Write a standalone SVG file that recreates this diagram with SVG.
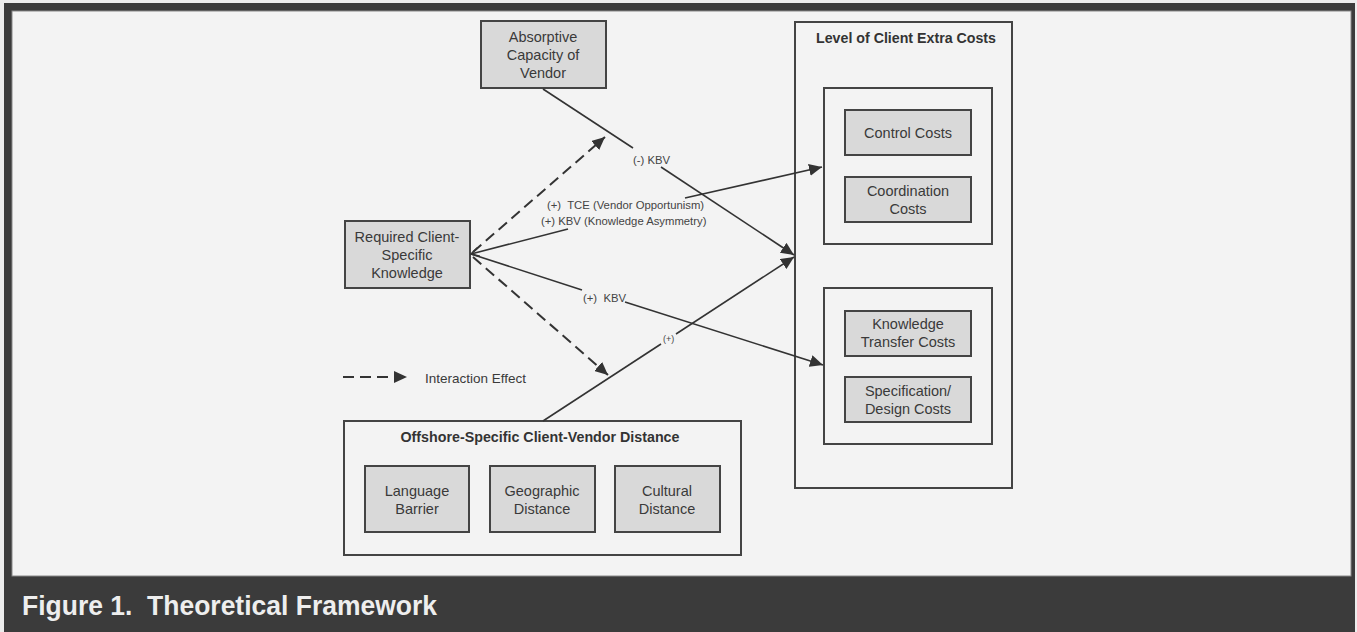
<svg xmlns="http://www.w3.org/2000/svg" width="1357" height="632" viewBox="0 0 1357 632">
<defs>
<style>
.box{fill:#d9d9d9;stroke:#444;stroke-width:2}
.frame{fill:none;stroke:#444;stroke-width:2}
.t{font-family:"Liberation Sans",Arial,sans-serif;font-size:14.5px;fill:#3a3a3a;text-anchor:middle}
.h{font-family:"Liberation Sans",Arial,sans-serif;font-size:15px;font-weight:bold;fill:#333;text-anchor:middle}
.lbl{font-family:"Liberation Sans",Arial,sans-serif;font-size:11.3px;fill:#444}
.ln{fill:none;stroke:#333;stroke-width:1.6}
.dash{fill:none;stroke:#333;stroke-width:2;stroke-dasharray:11 6}
</style>
<marker id="ah" markerUnits="userSpaceOnUse" markerWidth="14" markerHeight="12" refX="13" refY="6" orient="auto">
<path d="M0,0 L13,6 L0,12 z" fill="#333"/>
</marker>
<marker id="open" markerUnits="userSpaceOnUse" markerWidth="12" markerHeight="12" refX="11" refY="6" orient="auto">
<path d="M3,1.5 L11,6 L3,10.5" fill="none" stroke="#333" stroke-width="1.6"/>
</marker>
</defs>

<rect x="0" y="0" width="1357" height="632" fill="#ececec"/>
<rect x="4" y="3" width="1351" height="629" fill="#3b3b3b"/>
<rect x="12" y="11" width="1339" height="565" fill="#f3f3f3" stroke="#888" stroke-width="1"/>

<g id="absorptive">
<rect class="box" x="481" y="21" width="125" height="67"/>
<text class="t" x="543" y="42">Absorptive</text>
<text class="t" x="543" y="60">Capacity of</text>
<text class="t" x="543" y="78">Vendor</text>
</g>

<g id="required">
<rect class="box" x="345" y="221" width="125" height="67"/>
<text class="t" x="407" y="242">Required Client-</text>
<text class="t" x="407" y="260">Specific</text>
<text class="t" x="407" y="278">Knowledge</text>
</g>

<g id="level">
<rect class="frame" x="795" y="22" width="217" height="466"/>
<text class="h" x="906" y="43" textLength="180" lengthAdjust="spacingAndGlyphs">Level of Client Extra Costs</text>
<rect class="frame" x="824" y="88" width="168" height="156"/>
<rect class="frame" x="824" y="288" width="168" height="156"/>
</g>

<g id="control">
<rect class="box" x="845" y="110" width="126" height="45"/>
<text class="t" x="908" y="138">Control Costs</text>
</g>
<g id="coordination">
<rect class="box" x="845" y="177" width="126" height="45"/>
<text class="t" x="908" y="196">Coordination</text>
<text class="t" x="908" y="214">Costs</text>
</g>
<g id="knowledge">
<rect class="box" x="845" y="311" width="126" height="45"/>
<text class="t" x="908" y="329">Knowledge</text>
<text class="t" x="908" y="347">Transfer Costs</text>
</g>
<g id="specification">
<rect class="box" x="845" y="377" width="126" height="45"/>
<text class="t" x="908" y="396">Specification/</text>
<text class="t" x="908" y="414">Design Costs</text>
</g>

<g id="offshore">
<rect class="frame" x="344" y="421" width="397" height="134"/>
<text class="h" x="540" y="442" textLength="279" lengthAdjust="spacingAndGlyphs">Offshore-Specific Client-Vendor Distance</text>
</g>
<g id="language">
<rect class="box" x="365" y="466" width="104" height="66"/>
<text class="t" x="417" y="496">Language</text>
<text class="t" x="417" y="514">Barrier</text>
</g>
<g id="geographic">
<rect class="box" x="490" y="466" width="105" height="66"/>
<text class="t" x="542" y="496">Geographic</text>
<text class="t" x="542" y="514">Distance</text>
</g>
<g id="cultural">
<rect class="box" x="615" y="466" width="105" height="66"/>
<text class="t" x="667" y="496">Cultural</text>
<text class="t" x="667" y="514">Distance</text>
</g>

<g id="connectors">
<path class="ln" d="M543,89 L633,148"/>
<path class="ln" d="M661,167 L794,255" marker-end="url(#ah)"/>
<path class="ln" d="M568,229 L471,254" marker-end="url(#open)"/>
<path class="ln" d="M685,198 L822,167" marker-end="url(#ah)"/>
<path class="ln" d="M471,254 L582,290"/>
<path class="ln" d="M625,302 L823,365" marker-end="url(#ah)"/>
<path class="ln" d="M543,421 L661,344"/>
<path class="ln" d="M676,334 L794,257" marker-end="url(#ah)"/>
<path class="dash" d="M473,252 L605,137" marker-end="url(#ah)"/>
<path class="dash" d="M473,257 L608,375" marker-end="url(#ah)"/>
<path class="dash" d="M343,377 L407,377" marker-end="url(#ah)"/>
<text class="lbl" x="633" y="164">(-) KBV</text>
<text class="lbl" x="547" y="209" xml:space="preserve">(+)  TCE (Vendor Opportunism)</text>
<text class="lbl" x="541" y="225">(+) KBV (Knowledge Asymmetry)</text>
<text class="lbl" x="583" y="302" xml:space="preserve">(+)  KBV</text>
<text class="lbl" x="663" y="342" style="font-size:9px">(+)</text>
<text x="425" y="383" style="font-family:'Liberation Sans',Arial,sans-serif;font-size:13.5px;fill:#3a3a3a">Interaction Effect</text>
</g>

<text x="22" y="615" textLength="415" lengthAdjust="spacingAndGlyphs" style="font-family:'Liberation Sans',Arial,sans-serif;font-size:27px;font-weight:bold;fill:#eeeeee" xml:space="preserve">Figure 1.  Theoretical Framework</text>
</svg>
